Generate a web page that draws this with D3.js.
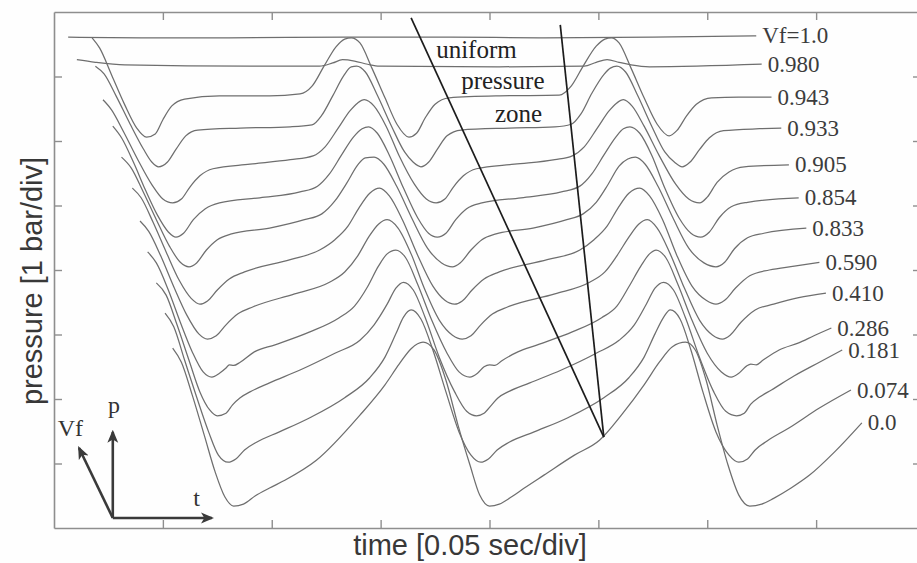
<!DOCTYPE html>
<html>
<head>
<meta charset="utf-8">
<script src="https://cdn.jsdelivr.net/npm/d3@7"></script>
<style>
    html, body { margin: 0; padding: 0; background: #fff; }
    svg { display: block; }
</style>
</head>
<body>
<div id="graph"></div>
<script>
// time in divisions (0.05 s/div), pressure in divisions (1 bar/div)
const trace_1000 = [[0.13,7.61],[0.80,7.60],[1.60,7.60],[2.70,7.61],[3.60,7.61],[4.50,7.60],[5.50,7.61],[6.45,7.63]];
const trace_0980 = [[0.21,7.26],[0.38,7.22],[0.65,7.18],[1.80,7.16],[2.44,7.16],[2.56,7.21],[2.65,7.26],[2.76,7.24],[2.88,7.19],[2.99,7.16],[4.09,7.15],[4.87,7.16],[4.98,7.22],[5.08,7.26],[5.19,7.22],[5.30,7.18],[5.47,7.15],[6.50,7.19]];
const trace_0943 = [[0.35,7.60],[0.42,7.44],[0.53,7.02],[0.65,6.56],[0.76,6.20],[0.85,6.06],[0.93,6.11],[1.00,6.33],[1.08,6.54],[1.20,6.65],[1.52,6.70],[1.98,6.70],[2.26,6.73],[2.37,6.85],[2.48,7.16],[2.59,7.46],[2.67,7.58],[2.73,7.60],[2.81,7.52],[2.92,7.13],[3.04,6.67],[3.15,6.26],[3.26,6.06],[3.33,6.12],[3.41,6.36],[3.50,6.57],[3.63,6.67],[4.09,6.70],[4.64,6.71],[4.75,6.85],[4.86,7.16],[4.98,7.47],[5.06,7.58],[5.12,7.60],[5.19,7.52],[5.30,7.13],[5.42,6.67],[5.54,6.26],[5.65,6.08],[5.72,6.16],[5.81,6.39],[5.90,6.57],[6.04,6.67],[6.29,6.68],[6.59,6.68]];
const trace_0933 = [[0.38,7.16],[0.46,7.04],[0.57,6.70],[0.70,6.26],[0.82,5.88],[0.90,5.67],[0.96,5.60],[1.04,5.67],[1.12,5.87],[1.21,6.08],[1.32,6.17],[1.71,6.20],[2.17,6.22],[2.37,6.25],[2.46,6.40],[2.56,6.70],[2.66,7.01],[2.73,7.15],[2.78,7.16],[2.86,7.07],[2.97,6.71],[3.10,6.23],[3.22,5.83],[3.30,5.67],[3.37,5.60],[3.44,5.67],[3.52,5.87],[3.61,6.08],[3.74,6.17],[4.18,6.20],[4.60,6.22],[4.75,6.26],[4.84,6.42],[4.94,6.74],[5.05,7.03],[5.11,7.13],[5.17,7.16],[5.25,7.07],[5.36,6.71],[5.49,6.23],[5.61,5.83],[5.70,5.67],[5.77,5.60],[5.84,5.67],[5.93,5.87],[6.02,6.05],[6.15,6.16],[6.48,6.19],[6.68,6.20]];
const trace_0905 = [[0.45,6.64],[0.53,6.48],[0.64,6.14],[0.77,5.71],[0.90,5.32],[1.00,5.10],[1.09,5.04],[1.17,5.10],[1.25,5.29],[1.34,5.46],[1.46,5.57],[1.80,5.64],[2.17,5.71],[2.38,5.77],[2.49,5.91],[2.61,6.20],[2.72,6.47],[2.79,6.59],[2.85,6.64],[2.94,6.54],[3.05,6.23],[3.17,5.77],[3.31,5.33],[3.42,5.10],[3.51,5.04],[3.59,5.10],[3.67,5.29],[3.76,5.46],[3.88,5.57],[4.23,5.64],[4.60,5.71],[4.76,5.77],[4.87,5.91],[4.99,6.20],[5.10,6.47],[5.17,6.59],[5.23,6.64],[5.31,6.54],[5.42,6.23],[5.56,5.77],[5.71,5.33],[5.83,5.10],[5.93,5.04],[6.00,5.13],[6.09,5.36],[6.20,5.52],[6.34,5.60],[6.75,5.63]];
const trace_0854 = [[0.54,6.23],[0.62,6.05],[0.73,5.67],[0.84,5.24],[0.95,4.85],[1.05,4.59],[1.12,4.51],[1.19,4.57],[1.28,4.78],[1.39,4.95],[1.52,5.04],[1.89,5.12],[2.26,5.21],[2.42,5.30],[2.53,5.49],[2.64,5.78],[2.75,6.06],[2.83,6.19],[2.89,6.22],[2.97,6.12],[3.08,5.78],[3.21,5.27],[3.34,4.81],[3.44,4.57],[3.52,4.51],[3.60,4.57],[3.69,4.78],[3.79,4.95],[3.93,5.04],[4.29,5.12],[4.66,5.21],[4.83,5.30],[4.94,5.49],[5.05,5.78],[5.16,6.06],[5.23,6.19],[5.29,6.22],[5.38,6.12],[5.49,5.78],[5.61,5.27],[5.74,4.81],[5.85,4.57],[5.94,4.51],[6.02,4.59],[6.11,4.81],[6.22,4.98],[6.37,5.05],[6.84,5.12]];
const trace_0833 = [[0.62,5.75],[0.71,5.58],[0.82,5.21],[0.94,4.78],[1.06,4.37],[1.16,4.12],[1.24,4.05],[1.31,4.11],[1.40,4.31],[1.50,4.47],[1.63,4.56],[1.98,4.65],[2.30,4.78],[2.46,4.87],[2.58,5.07],[2.69,5.35],[2.79,5.63],[2.86,5.74],[2.94,5.75],[3.03,5.64],[3.15,5.29],[3.29,4.79],[3.43,4.34],[3.56,4.11],[3.66,4.05],[3.73,4.11],[3.83,4.31],[3.93,4.47],[4.06,4.56],[4.40,4.65],[4.71,4.78],[4.86,4.87],[4.98,5.05],[5.09,5.33],[5.19,5.61],[5.27,5.72],[5.34,5.75],[5.43,5.64],[5.55,5.29],[5.69,4.79],[5.83,4.34],[5.97,4.11],[6.08,4.05],[6.16,4.12],[6.25,4.33],[6.37,4.50],[6.52,4.57],[6.91,4.65]];
const trace_0590 = [[0.72,5.27],[0.80,5.12],[0.91,4.74],[1.03,4.28],[1.15,3.84],[1.26,3.56],[1.34,3.47],[1.41,3.52],[1.50,3.69],[1.61,3.86],[1.75,3.97],[2.17,4.16],[2.44,4.31],[2.58,4.47],[2.70,4.68],[2.80,4.96],[2.90,5.19],[2.99,5.27],[3.08,5.15],[3.20,4.78],[3.34,4.23],[3.48,3.75],[3.59,3.53],[3.68,3.47],[3.75,3.52],[3.84,3.69],[3.95,3.86],[4.09,3.97],[4.53,4.16],[4.83,4.31],[4.96,4.47],[5.08,4.68],[5.18,4.96],[5.28,5.19],[5.38,5.27],[5.47,5.15],[5.59,4.78],[5.72,4.23],[5.86,3.75],[5.99,3.53],[6.08,3.47],[6.16,3.53],[6.26,3.72],[6.39,3.91],[6.57,4.00],[6.80,4.06],[7.03,4.12]];
const trace_0410 = [[0.79,4.76],[0.87,4.60],[0.98,4.22],[1.10,3.74],[1.22,3.30],[1.33,3.01],[1.41,2.93],[1.49,2.98],[1.58,3.15],[1.69,3.32],[1.83,3.43],[2.21,3.63],[2.53,3.81],[2.67,3.97],[2.79,4.22],[2.89,4.51],[2.98,4.71],[3.06,4.78],[3.16,4.65],[3.28,4.25],[3.40,3.72],[3.54,3.22],[3.66,2.99],[3.75,2.93],[3.83,2.98],[3.92,3.15],[4.03,3.32],[4.17,3.43],[4.60,3.63],[4.92,3.81],[5.06,3.97],[5.17,4.22],[5.28,4.51],[5.37,4.71],[5.45,4.78],[5.54,4.65],[5.66,4.25],[5.79,3.72],[5.93,3.22],[6.05,2.99],[6.14,2.93],[6.21,2.99],[6.31,3.19],[6.44,3.38],[6.61,3.47],[6.84,3.57],[7.09,3.64]];
const trace_0286 = [[0.86,4.28],[0.94,4.11],[1.05,3.69],[1.16,3.19],[1.27,2.73],[1.37,2.42],[1.45,2.34],[1.52,2.40],[1.58,2.48],[1.61,2.53],[1.65,2.52],[1.71,2.57],[1.84,2.73],[2.03,2.84],[2.35,3.04],[2.62,3.26],[2.76,3.44],[2.88,3.74],[2.98,4.06],[3.06,4.25],[3.14,4.31],[3.23,4.19],[3.34,3.78],[3.47,3.22],[3.61,2.71],[3.72,2.42],[3.82,2.34],[3.89,2.40],[3.95,2.50],[4.00,2.53],[4.05,2.52],[4.11,2.59],[4.26,2.73],[4.44,2.84],[4.76,3.04],[5.03,3.26],[5.17,3.44],[5.28,3.74],[5.39,4.06],[5.47,4.25],[5.53,4.31],[5.62,4.19],[5.73,3.78],[5.86,3.22],[6.00,2.71],[6.13,2.42],[6.22,2.34],[6.29,2.40],[6.36,2.51],[6.40,2.54],[6.45,2.53],[6.51,2.60],[6.66,2.76],[6.84,2.87],[6.98,2.98],[7.14,3.10]];
const trace_0181 = [[0.94,3.80],[1.03,3.61],[1.13,3.15],[1.24,2.60],[1.34,2.11],[1.43,1.83],[1.50,1.74],[1.58,1.78],[1.64,1.91],[1.71,2.02],[1.80,2.11],[1.98,2.25],[2.26,2.45],[2.58,2.71],[2.81,2.91],[2.94,3.15],[3.06,3.47],[3.14,3.72],[3.21,3.81],[3.30,3.69],[3.41,3.26],[3.54,2.64],[3.68,2.11],[3.79,1.81],[3.88,1.74],[3.95,1.78],[4.02,1.91],[4.08,2.02],[4.17,2.11],[4.37,2.25],[4.66,2.45],[4.98,2.71],[5.19,2.91],[5.33,3.15],[5.44,3.47],[5.52,3.72],[5.60,3.81],[5.69,3.69],[5.80,3.26],[5.93,2.64],[6.06,2.11],[6.17,1.81],[6.27,1.74],[6.34,1.78],[6.40,1.92],[6.48,2.03],[6.59,2.14],[6.80,2.36],[7.03,2.57],[7.24,2.76]];
const trace_0074 = [[1.02,3.33],[1.10,3.12],[1.20,2.60],[1.31,2.03],[1.42,1.49],[1.51,1.13],[1.60,1.02],[1.67,1.07],[1.75,1.21],[1.86,1.33],[2.07,1.49],[2.35,1.71],[2.67,2.02],[2.90,2.33],[3.04,2.65],[3.14,3.01],[3.21,3.27],[3.28,3.38],[3.37,3.24],[3.48,2.76],[3.60,2.11],[3.72,1.49],[3.83,1.13],[3.92,1.02],[3.99,1.07],[4.07,1.21],[4.18,1.33],[4.41,1.49],[4.72,1.71],[5.05,2.02],[5.28,2.33],[5.42,2.65],[5.52,3.01],[5.60,3.27],[5.66,3.38],[5.75,3.24],[5.85,2.76],[5.96,2.11],[6.08,1.49],[6.20,1.13],[6.29,1.02],[6.37,1.07],[6.44,1.21],[6.55,1.35],[6.75,1.55],[7.03,1.86],[7.32,2.14]];
const trace_0000 = [[1.09,2.79],[1.17,2.57],[1.27,2.06],[1.38,1.44],[1.48,0.87],[1.57,0.48],[1.65,0.34],[1.74,0.37],[1.85,0.50],[1.98,0.62],[2.12,0.74],[2.41,1.05],[2.81,1.75],[3.04,2.22],[3.17,2.54],[3.28,2.78],[3.39,2.88],[3.49,2.76],[3.60,2.29],[3.71,1.60],[3.82,0.98],[3.91,0.51],[4.00,0.34],[4.09,0.37],[4.20,0.48],[4.32,0.62],[4.50,0.82],[4.78,1.13],[5.01,1.36],[5.22,1.77],[5.42,2.22],[5.56,2.57],[5.68,2.81],[5.80,2.88],[5.89,2.76],[5.99,2.29],[6.09,1.60],[6.19,0.98],[6.29,0.51],[6.39,0.34],[6.50,0.37],[6.61,0.46],[6.77,0.62],[6.94,0.82],[7.17,1.18],[7.42,1.63]];

const vfLabels = ["Vf=1.0", "0.980", "0.943", "0.933", "0.905", "0.854", "0.833", "0.590", "0.410", "0.286", "0.181", "0.074", "0.0"];

// edges of the uniform pressure zone
const zoneLeft = [[3.28, 7.91], [5.05, 1.41]];
const zoneRight = [[4.65, 7.80], [5.05, 1.41]];
const zoneWords = ["uniform", "pressure", "zone"];
const zoneWordAt = [[3.51, 7.29], [3.74, 6.81], [4.05, 6.29]];

const timeTicks = [1, 2, 3, 4, 5, 6, 7];
const pressureTicks = [1, 2, 3, 4, 5, 6, 7];

(function() {

    const traces = [trace_1000, trace_0980, trace_0943, trace_0933, trace_0905, trace_0854,
        trace_0833, trace_0590, trace_0410, trace_0286, trace_0181, trace_0074, trace_0000];

    const W = 917, H = 563;
    const x = d3.scaleLinear().domain([0, 8]).range([54, 925]);
    const y = d3.scaleLinear().domain([0, 8]).range([528, 12]);

    const svg = d3.select("#graph").append("svg")
        .attr("width", W)
        .attr("height", H);

    svg.append("rect").attr("width", W).attr("height", H).attr("fill", "#fefefe");

    // frame with inward ticks on all four sides
    const frameColor = "#8e8e8e";
    function frame(g) {
        g.select(".domain").attr("stroke", frameColor).attr("stroke-width", 1.6);
        g.selectAll(".tick line").attr("stroke", frameColor).attr("stroke-width", 1.4);
    }
    svg.append("g").attr("transform", "translate(0," + y(0) + ")")
        .call(d3.axisBottom(x).tickValues(timeTicks).tickSizeInner(-8).tickSizeOuter(0).tickFormat(""))
        .call(frame);
    svg.append("g").attr("transform", "translate(0," + y(8) + ")")
        .call(d3.axisTop(x).tickValues(timeTicks).tickSizeInner(-8).tickSizeOuter(0).tickFormat(""))
        .call(frame);
    svg.append("g").attr("transform", "translate(" + x(0) + ",0)")
        .call(d3.axisLeft(y).tickValues(pressureTicks).tickSizeInner(-8).tickSizeOuter(0).tickFormat(""))
        .call(frame);
    svg.append("g").attr("transform", "translate(" + x(8) + ",0)")
        .call(d3.axisRight(y).tickValues(pressureTicks).tickSizeInner(-12).tickSizeOuter(0).tickFormat(""))
        .call(frame);

    // pressure traces
    const line = d3.line()
        .x(d => x(d[0]))
        .y(d => y(d[1]))
        .curve(d3.curveMonotoneX);

    svg.append("g").selectAll("path")
        .data(traces)
        .enter().append("path")
        .attr("fill", "none")
        .attr("stroke", "#6e6e6e")
        .attr("stroke-width", 1.25)
        .attr("stroke-linejoin", "round")
        .attr("d", line);

    // Vf labels at the right end of each trace
    svg.append("g")
        .attr("font-family", "'Liberation Serif', 'DejaVu Serif', serif")
        .attr("font-size", 23)
        .attr("fill", "#3c3c3c")
        .selectAll("text")
        .data(traces)
        .enter().append("text")
        .attr("x", d => x(d[d.length - 1][0]) + 6)
        .attr("y", d => y(d[d.length - 1][1]))
        .attr("dy", "0.33em")
        .text((d, i) => vfLabels[i]);

    // uniform pressure zone
    const straight = d3.line().x(d => x(d[0])).y(d => y(d[1]));
    [zoneLeft, zoneRight].forEach(function(z) {
        svg.append("path")
            .attr("d", straight(z))
            .attr("fill", "none")
            .attr("stroke", "#1c1c1c")
            .attr("stroke-width", 1.7);
    });

    svg.append("g")
        .attr("font-family", "'Liberation Serif', 'DejaVu Serif', serif")
        .attr("font-size", 25)
        .attr("fill", "#222")
        .selectAll("text")
        .data(zoneWords)
        .enter().append("text")
        .attr("x", (d, i) => x(zoneWordAt[i][0]))
        .attr("y", (d, i) => y(zoneWordAt[i][1]))
        .text(d => d);

    // coordinate system sketch in the lower left corner
    const origin = [0.54, 0.155];
    const arrows = [
        {end: [1.45, 0.155], label: "t", at: [1.31, 0.34]},
        {end: [0.54, 1.49], label: "p", at: [0.55, 1.78]},
        {end: [0.23, 1.24], label: "Vf", at: [0.15, 1.43]}
    ];

    svg.append("defs").append("marker")
        .attr("id", "head")
        .attr("viewBox", "0 0 12 10")
        .attr("refX", 10)
        .attr("refY", 5)
        .attr("markerWidth", 5)
        .attr("markerHeight", 5)
        .attr("markerUnits", "strokeWidth")
        .attr("orient", "auto")
        .append("path")
        .attr("d", "M0,0 L12,5 L0,10 L3,5 Z")
        .attr("fill", "#3a3a3a");

    svg.append("g").selectAll("line")
        .data(arrows)
        .enter().append("line")
        .attr("x1", x(origin[0]))
        .attr("y1", y(origin[1]))
        .attr("x2", d => x(d.end[0]))
        .attr("y2", d => y(d.end[1]))
        .attr("stroke", "#3a3a3a")
        .attr("stroke-width", 2.6)
        .attr("marker-end", "url(#head)");

    svg.append("g")
        .attr("font-family", "'Liberation Serif', 'DejaVu Serif', serif")
        .attr("font-size", 24)
        .attr("fill", "#333")
        .attr("text-anchor", "middle")
        .selectAll("text")
        .data(arrows)
        .enter().append("text")
        .attr("x", d => x(d.at[0]))
        .attr("y", d => y(d.at[1]))
        .text(d => d.label);

    // axis titles
    svg.append("text")
        .attr("x", 470)
        .attr("y", 555)
        .attr("text-anchor", "middle")
        .attr("font-family", "'Liberation Sans', Arial, sans-serif")
        .attr("font-size", 29)
        .attr("fill", "#383838")
        .text("time [0.05 sec/div]");

    svg.append("text")
        .attr("transform", "translate(42,281) rotate(-90)")
        .attr("text-anchor", "middle")
        .attr("font-family", "'Liberation Sans', Arial, sans-serif")
        .attr("font-size", 29)
        .attr("fill", "#383838")
        .text("pressure [1 bar/div]");

})();
</script>
</body>
</html>
